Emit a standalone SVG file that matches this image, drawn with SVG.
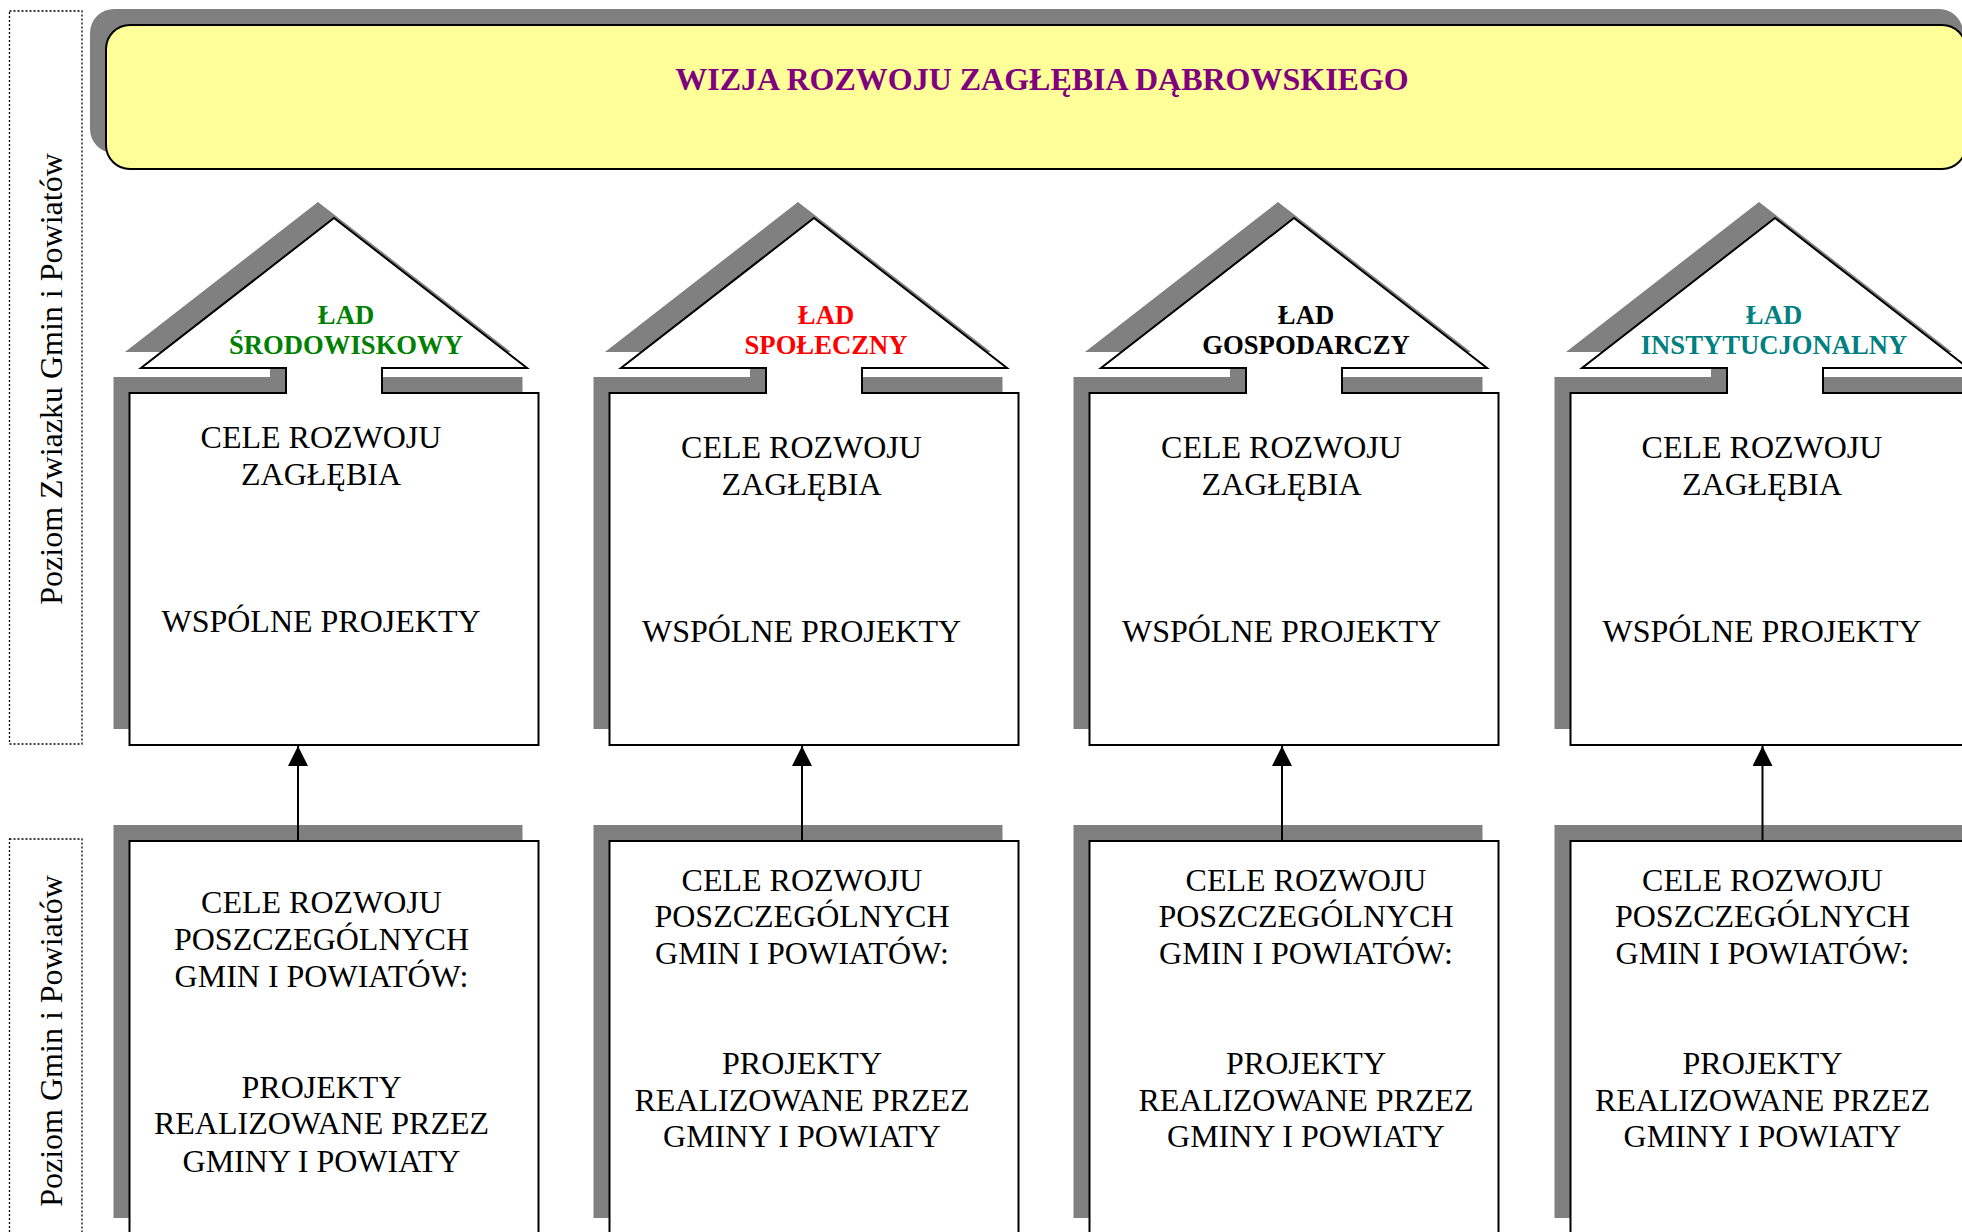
<svg xmlns="http://www.w3.org/2000/svg" width="1962" height="1232" viewBox="0 0 1962 1232">
<style>
.shadow{fill:#808080;stroke:none}
.house{fill:#ffffff;stroke:#000000;stroke-width:2}
.box{fill:#ffffff;stroke:#000000;stroke-width:2}
.lbl{fill:none;stroke:#000000;stroke-width:1.3;stroke-dasharray:2 2}
.t{font-family:"Liberation Serif","Times New Roman",serif;font-size:32px;fill:#000000;text-anchor:middle}
.v{font-family:"Liberation Serif","Times New Roman",serif;font-size:32px;fill:#000000;text-anchor:middle}
.r{font-family:"Liberation Serif","Times New Roman",serif;font-size:26.67px;font-weight:bold;text-anchor:middle}
.title{font-family:"Liberation Serif","Times New Roman",serif;font-size:32px;font-weight:bold;fill:#800080;text-anchor:middle}
.conn{stroke:#000000;stroke-width:2;fill:none}
</style>
<defs>
<marker id="ah" markerUnits="userSpaceOnUse" markerWidth="20" markerHeight="21" refX="20" refY="10" orient="auto">
<path d="M0,0 L20,10 L0,20 Z" fill="#000000"/>
</marker>
<path id="housePath" d="M-204.5,352 L-204.5,0 L-48,0 L-48,-25 L-193,-25 L0,-175 L193,-25 L48,-25 L48,0 L204.5,0 L204.5,352 Z"/>
</defs>
<rect width="1962" height="1232" fill="#ffffff"/>

<g id="level-labels">
<g id="label-top">
<rect class="lbl" x="9.5" y="11" width="72.5" height="733"/>
<text class="v" transform="translate(62,379) rotate(-90)">Poziom Zwiazku Gmin i Powiatów</text>
</g>
<g id="label-bottom">
<rect class="lbl" x="9.5" y="839" width="72.5" height="410"/>
<text class="v" transform="translate(62,1041) rotate(-90)">Poziom Gmin i Powiatów</text>
</g>
</g>

<g id="title">
<rect class="shadow" x="90" y="9" width="1873" height="144" rx="24"/>
<rect x="106" y="25" width="1860" height="144" rx="24" fill="#ffff99" stroke="#000000" stroke-width="2"/>
<text class="title" x="1042" y="90">WIZJA ROZWOJU ZAGŁĘBIA DĄBROWSKIEGO</text>
</g>

<g id="house-1">
<use href="#housePath" class="shadow" transform="translate(318,377)"/>
<use href="#housePath" class="house" transform="translate(334,393)"/>
<text class="r" x="346" y="324" fill="#008000">ŁAD</text>
<text class="r" x="346" y="354" fill="#008000">ŚRODOWISKOWY</text>
<text class="t" x="321" y="448">CELE ROZWOJU</text>
<text class="t" x="321" y="485">ZAGŁĘBIA</text>
<text class="t" x="321" y="632">WSPÓLNE PROJEKTY</text>
</g>
<g id="house-2">
<use href="#housePath" class="shadow" transform="translate(798,377)"/>
<use href="#housePath" class="house" transform="translate(814,393)"/>
<text class="r" x="826" y="324" fill="#ff0000">ŁAD</text>
<text class="r" x="826" y="354" fill="#ff0000">SPOŁECZNY</text>
<text class="t" x="801.5" y="458">CELE ROZWOJU</text>
<text class="t" x="801.5" y="495">ZAGŁĘBIA</text>
<text class="t" x="801.5" y="642">WSPÓLNE PROJEKTY</text>
</g>
<g id="house-3">
<use href="#housePath" class="shadow" transform="translate(1278,377)"/>
<use href="#housePath" class="house" transform="translate(1294,393)"/>
<text class="r" x="1306" y="324" fill="#000000">ŁAD</text>
<text class="r" x="1306" y="354" fill="#000000">GOSPODARCZY</text>
<text class="t" x="1281.5" y="458">CELE ROZWOJU</text>
<text class="t" x="1281.5" y="495">ZAGŁĘBIA</text>
<text class="t" x="1281.5" y="642">WSPÓLNE PROJEKTY</text>
</g>
<g id="house-4">
<use href="#housePath" class="shadow" transform="translate(1759,377)"/>
<use href="#housePath" class="house" transform="translate(1775,393)"/>
<text class="r" x="1774" y="324" fill="#008080">ŁAD</text>
<text class="r" x="1774" y="354" fill="#008080">INSTYTUCJONALNY</text>
<text class="t" x="1762" y="458">CELE ROZWOJU</text>
<text class="t" x="1762" y="495">ZAGŁĘBIA</text>
<text class="t" x="1762" y="642">WSPÓLNE PROJEKTY</text>
</g>

<g id="local-1">
<rect class="shadow" x="113.5" y="825" width="409" height="393"/>
<rect class="box" x="129.5" y="841" width="409" height="410"/>
<text class="t" x="321.5" y="913">CELE ROZWOJU</text>
<text class="t" x="321.5" y="950">POSZCZEGÓLNYCH</text>
<text class="t" x="321.5" y="987">GMIN I POWIATÓW:</text>
<text class="t" x="321.5" y="1098">PROJEKTY</text>
<text class="t" x="321.5" y="1134">REALIZOWANE PRZEZ</text>
<text class="t" x="321.5" y="1172">GMINY I POWIATY</text>
</g>
<g id="local-2">
<rect class="shadow" x="593.5" y="825" width="409" height="393"/>
<rect class="box" x="609.5" y="841" width="409" height="410"/>
<text class="t" x="802" y="890.5">CELE ROZWOJU</text>
<text class="t" x="802" y="927">POSZCZEGÓLNYCH</text>
<text class="t" x="802" y="963.5">GMIN I POWIATÓW:</text>
<text class="t" x="802" y="1074">PROJEKTY</text>
<text class="t" x="802" y="1110.5">REALIZOWANE PRZEZ</text>
<text class="t" x="802" y="1147">GMINY I POWIATY</text>
</g>
<g id="local-3">
<rect class="shadow" x="1073.5" y="825" width="409" height="393"/>
<rect class="box" x="1089.5" y="841" width="409" height="410"/>
<text class="t" x="1306" y="890.5">CELE ROZWOJU</text>
<text class="t" x="1306" y="927">POSZCZEGÓLNYCH</text>
<text class="t" x="1306" y="963.5">GMIN I POWIATÓW:</text>
<text class="t" x="1306" y="1074">PROJEKTY</text>
<text class="t" x="1306" y="1110.5">REALIZOWANE PRZEZ</text>
<text class="t" x="1306" y="1147">GMINY I POWIATY</text>
</g>
<g id="local-4">
<rect class="shadow" x="1554.5" y="825" width="409" height="393"/>
<rect class="box" x="1570.5" y="841" width="409" height="410"/>
<text class="t" x="1762.5" y="890.5">CELE ROZWOJU</text>
<text class="t" x="1762.5" y="927">POSZCZEGÓLNYCH</text>
<text class="t" x="1762.5" y="963.5">GMIN I POWIATÓW:</text>
<text class="t" x="1762.5" y="1074">PROJEKTY</text>
<text class="t" x="1762.5" y="1110.5">REALIZOWANE PRZEZ</text>
<text class="t" x="1762.5" y="1147">GMINY I POWIATY</text>
</g>

<g id="connectors">
<line class="conn" x1="298" y1="841" x2="298" y2="746" marker-end="url(#ah)"/>
<line class="conn" x1="802" y1="841" x2="802" y2="746" marker-end="url(#ah)"/>
<line class="conn" x1="1282" y1="841" x2="1282" y2="746" marker-end="url(#ah)"/>
<line class="conn" x1="1762.5" y1="841" x2="1762.5" y2="746" marker-end="url(#ah)"/>
</g>
</svg>
